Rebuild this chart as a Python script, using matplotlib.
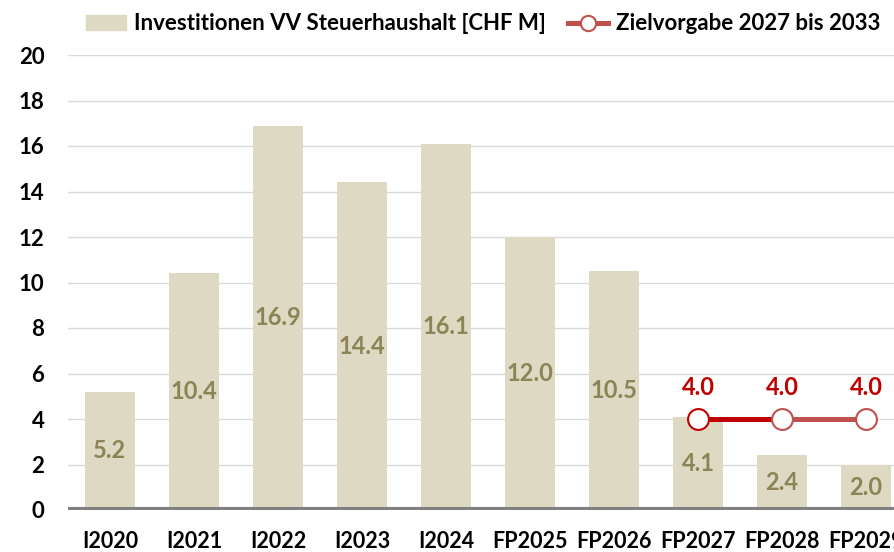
import matplotlib.pyplot as plt
from matplotlib.lines import Line2D
from matplotlib.patches import Patch

plt.rcParams['font.family'] = ['Lato', 'DejaVu Sans']
plt.rcParams['font.weight'] = 'bold'

categories = ['I2020', 'I2021', 'I2022', 'I2023', 'I2024',
              'FP2025', 'FP2026', 'FP2027', 'FP2028', 'FP2029']
investitionen = [5.2, 10.4, 16.9, 14.4, 16.1, 12.0, 10.5, 4.1, 2.4, 2.0]
ziel_idx = [7, 8, 9]
zielvorgabe = [4.0, 4.0, 4.0]
yticks = [0, 2, 4, 6, 8, 10, 12, 14, 16, 18, 20]

bar_col = '#DDD9C3'
lab_col = '#8C8456'
red_dark = '#C00000'
red_light = '#C0504D'

fig = plt.figure(figsize=(8.95, 5.52), dpi=100)
ax = fig.add_axes([68 / 895, 42 / 552, 1 - 68 / 895, 455 / 552])

x = list(range(len(categories)))
bars = ax.bar(x, investitionen, width=0.6, color=bar_col, zorder=2)
for xi, v in zip(x, investitionen):
    ax.text(xi, v / 2, f'{v:.1f}', ha='center', va='center',
            fontsize=17, fontweight='bold', color=lab_col, zorder=3)

# target line, first segment darker
ax.plot(ziel_idx[:2], zielvorgabe[:2], color=red_dark, lw=3.6, zorder=4)
ax.plot(ziel_idx[1:], zielvorgabe[1:], color=red_light, lw=3.6, zorder=4)
ax.plot(ziel_idx[:1], zielvorgabe[:1], 'o', ms=15, mfc='white', mec=red_dark,
        mew=1.5, zorder=5)
ax.plot(ziel_idx[1:], zielvorgabe[1:], 'o', ms=15, mfc='white', mec=red_light,
        mew=1.5, zorder=5)
for xi, v in zip(ziel_idx, zielvorgabe):
    ax.text(xi, v + 1.4, f'{v:.1f}', ha='center', va='center',
            fontsize=17, fontweight='bold', color=red_dark, zorder=5)

ax.set_xlim(-0.5, 9.345)
ax.set_ylim(0, 20)
ax.set_yticks(yticks)
ax.set_xticks(x)
ax.set_xticklabels(categories)
ax.grid(axis='y', color='#D9D9D9', lw=1, zorder=0)
ax.axhline(0, color='#808080', lw=4.4, zorder=3)
for s in ax.spines.values():
    s.set_visible(False)
ax.tick_params(length=0)
ax.tick_params(axis='x', pad=15, labelsize=15.5)
ax.tick_params(axis='y', pad=17, labelsize=16)
for t in ax.get_xticklabels() + ax.get_yticklabels():
    t.set_fontweight('bold')

handles = [Patch(color=bar_col),
           Line2D([], [], color=red_light, lw=3.6, marker='o', ms=11,
                  mfc='white', mec=red_light, mew=1.5)]
fig.legend(handles, ['Investitionen VV Steuerhaushalt [CHF M]',
                     'Zielvorgabe 2027 bis 2033'],
           loc='upper left', bbox_to_anchor=(66 / 895, 1.012), ncol=2,
           frameon=False, prop={'size': 16, 'weight': 'bold'},
           handlelength=1.8, handletextpad=0.35, columnspacing=1.0)

fig.savefig('out.png', dpi=100)
